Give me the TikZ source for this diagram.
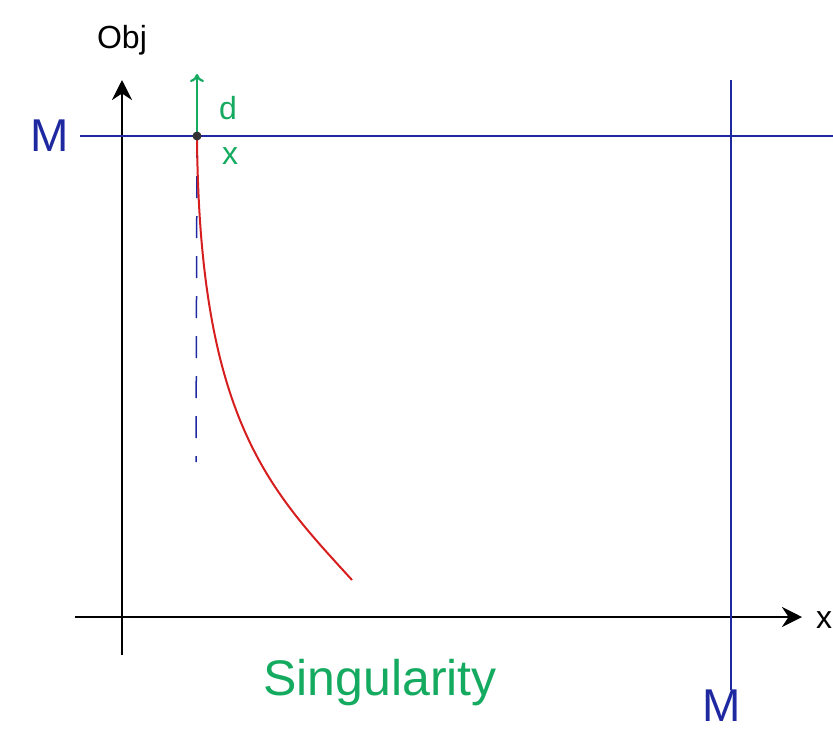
\documentclass[tikz,border=0pt]{standalone}
\usepackage{fontspec}
\setmainfont{Liberation Sans}
\usetikzlibrary{calc, positioning, arrows.meta}

\definecolor{penblue}{RGB}{30,40,160}
\definecolor{pengreen}{RGB}{20,170,95}
\definecolor{penred}{RGB}{215,30,30}

\begin{document}
\begin{tikzpicture}[x=1pt, y=-1pt, every node/.style={inner sep=0pt}]
        \useasboundingbox (0,0) rectangle (833,737);
        \tikzset{axis/.style={line width=2.8pt, ->, >={Stealth[length=20pt, width=20pt]}},
                 bound/.style={penblue, line width=1.8pt},
                 lbl/.style={font=\fontsize{32}{32}\selectfont}}

        % axes
        \coordinate (o1) at (122,655);
        \coordinate (o2) at (122,80);
        \coordinate (x1) at (75,617);
        \coordinate (x2) at (802,617);
        \draw[axis] (o1) -- (o2);
        \draw[axis] (x1) -- (x2);
        \node[lbl] (obj) at (122,40) {Obj};
        \node[lbl, anchor=west] (xl) at (816,620) {x};

        % bounds M
        \coordinate (m1) at (80,136);
        \coordinate (m2) at (833,136);
        \coordinate (m3) at (731,80);
        \coordinate (m4) at (731,690);
        \draw[bound] (m1) -- (m2);
        \draw[bound] (m3) -- (m4);
        \node[penblue, font=\fontsize{46}{46}\selectfont] (mh) at (50,136) {M};
        \node[penblue, font=\fontsize{46}{46}\selectfont] (mv) at (722,706) {M};

        % point x and direction d
        \coordinate (px) at (197,136);
        \coordinate (pd) at (197,74);
        \coordinate (pe) at (196,462);
        \draw[penblue, line width=1.5pt, dash pattern=on 22pt off 18pt] (px) -- (pe);
        \draw[penred, line width=2pt] (px) .. controls (199,420) and (270,490) .. (352,580);
        \draw[pengreen, line width=2.2pt, -{To[length=8pt, width=14pt]}] (px) -- (pd);
        \fill[black!80] (px) circle (4.5pt);
        \node[lbl, pengreen] (dl) at (228,108) {d};
        \node[lbl, pengreen] (xp) at (230,156) {x};

        \node[pengreen, font=\fontsize{50}{50}\selectfont] (sing) at (380,683) {Singularity};
    \end{tikzpicture}
\end{document}
